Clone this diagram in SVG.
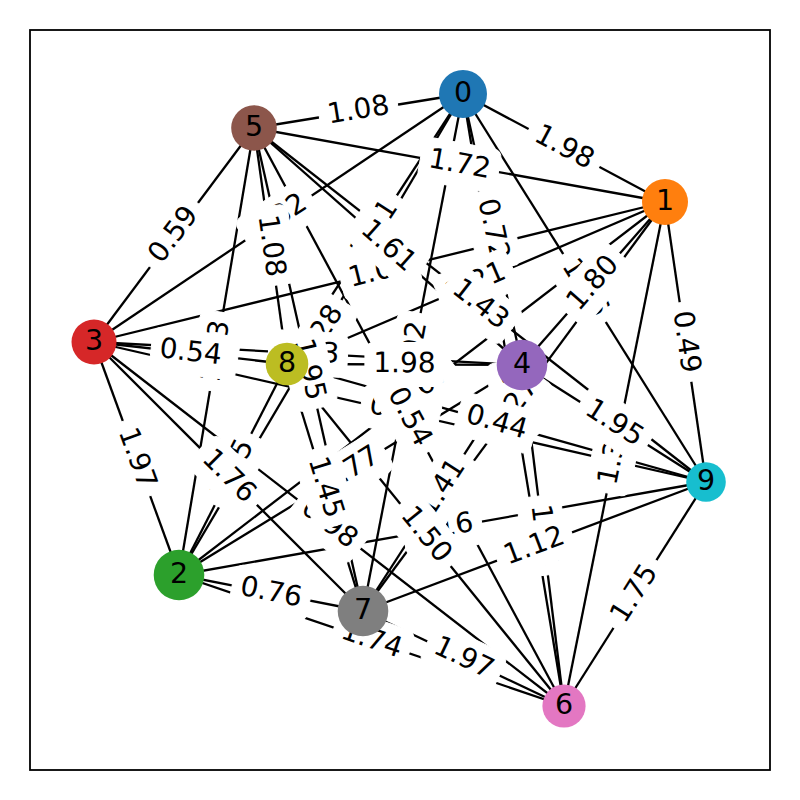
<svg xmlns="http://www.w3.org/2000/svg" width="800" height="800" viewBox="0 0 800 800">
<style>
.e line{stroke:#000;stroke-width:2.3;stroke-linecap:butt}
.lb text{font-family:"DejaVu Sans",sans-serif;font-size:28px;text-anchor:middle;fill:#000}
.n text{font-family:"DejaVu Sans",sans-serif;font-size:28.5px;text-anchor:middle;fill:#000}
</style>
<defs>
<rect id="bx" x="-39.6" y="-22" width="79.2" height="44" rx="8.4" ry="8.4" fill="#fff" stroke="#fff" stroke-width="1"/>
</defs>
<rect x="30" y="30" width="740" height="740" fill="#fff" stroke="#000" stroke-width="1.8"/>
<g id="edges" class="e">
<line x1="463" y1="94" x2="665" y2="202"/>
<line x1="463" y1="94" x2="179" y2="575"/>
<line x1="463" y1="94" x2="94" y2="342"/>
<line x1="463" y1="94" x2="522" y2="365"/>
<line x1="463" y1="94" x2="254" y2="128"/>
<line x1="463" y1="94" x2="564" y2="706"/>
<line x1="463" y1="94" x2="363" y2="611"/>
<line x1="463" y1="94" x2="287" y2="364"/>
<line x1="463" y1="94" x2="706" y2="482"/>
<line x1="665" y1="202" x2="179" y2="575"/>
<line x1="665" y1="202" x2="94" y2="342"/>
<line x1="665" y1="202" x2="522" y2="365"/>
<line x1="665" y1="202" x2="254" y2="128"/>
<line x1="665" y1="202" x2="564" y2="706"/>
<line x1="665" y1="202" x2="363" y2="611"/>
<line x1="665" y1="202" x2="287" y2="364"/>
<line x1="665" y1="202" x2="706" y2="482"/>
<line x1="179" y1="575" x2="94" y2="342"/>
<line x1="179" y1="575" x2="522" y2="365"/>
<line x1="179" y1="575" x2="254" y2="128"/>
<line x1="179" y1="575" x2="564" y2="706"/>
<line x1="179" y1="575" x2="363" y2="611"/>
<line x1="179" y1="575" x2="287" y2="364"/>
<line x1="179" y1="575" x2="706" y2="482"/>
<line x1="94" y1="342" x2="522" y2="365"/>
<line x1="94" y1="342" x2="254" y2="128"/>
<line x1="94" y1="342" x2="564" y2="706"/>
<line x1="94" y1="342" x2="363" y2="611"/>
<line x1="94" y1="342" x2="287" y2="364"/>
<line x1="94" y1="342" x2="706" y2="482"/>
<line x1="522" y1="365" x2="254" y2="128"/>
<line x1="522" y1="365" x2="564" y2="706"/>
<line x1="522" y1="365" x2="363" y2="611"/>
<line x1="522" y1="365" x2="287" y2="364"/>
<line x1="522" y1="365" x2="706" y2="482"/>
<line x1="254" y1="128" x2="564" y2="706"/>
<line x1="254" y1="128" x2="363" y2="611"/>
<line x1="254" y1="128" x2="287" y2="364"/>
<line x1="254" y1="128" x2="706" y2="482"/>
<line x1="564" y1="706" x2="363" y2="611"/>
<line x1="564" y1="706" x2="287" y2="364"/>
<line x1="564" y1="706" x2="706" y2="482"/>
<line x1="363" y1="611" x2="287" y2="364"/>
<line x1="363" y1="611" x2="706" y2="482"/>
<line x1="287" y1="364" x2="706" y2="482"/>
</g>
<g id="edge-labels" class="lb">
<g transform="translate(564,148) rotate(28.1)"><use href="#bx"/><text y="7.7">1.98</text></g>
<g transform="translate(321,334.5) rotate(-59.4)"><use href="#bx"/><text y="7.7">1.28</text></g>
<g transform="translate(278.5,218) rotate(-33.9)"><use href="#bx"/><text y="7.7">0.82</text></g>
<g transform="translate(492.5,229.5) rotate(77.7)"><use href="#bx"/><text y="7.7">0.72</text></g>
<g transform="translate(358.5,111) rotate(-9.2)"><use href="#bx"/><text y="7.7">1.08</text></g>
<g transform="translate(513.5,400) rotate(80.6)"><use href="#bx"/><text y="7.7">0.63</text></g>
<g transform="translate(413,352.5) rotate(-79.1)"><use href="#bx"/><text y="7.7">0.92</text></g>
<g transform="translate(375,229) rotate(-56.9)"><use href="#bx"/><text y="7.7">1.31</text></g>
<g transform="translate(584.5,288) rotate(57.9)"><use href="#bx"/><text y="7.7">1.86</text></g>
<g transform="translate(422,388.5) rotate(-37.5)"><use href="#bx"/><text y="7.7">0.67</text></g>
<g transform="translate(379.5,272) rotate(-13.8)"><use href="#bx"/><text y="7.7">1.03</text></g>
<g transform="translate(593.5,283.5) rotate(-48.7)"><use href="#bx"/><text y="7.7">1.80</text></g>
<g transform="translate(459.5,165) rotate(10.2)"><use href="#bx"/><text y="7.7">1.72</text></g>
<g transform="translate(614.5,454) rotate(-78.7)"><use href="#bx"/><text y="7.7">1.39</text></g>
<g transform="translate(514,406.5) rotate(-53.6)"><use href="#bx"/><text y="7.7">1.27</text></g>
<g transform="translate(476,283) rotate(-23.2)"><use href="#bx"/><text y="7.7">1.21</text></g>
<g transform="translate(685.5,342) rotate(81.7)"><use href="#bx"/><text y="7.7">0.49</text></g>
<g transform="translate(136.5,458.5) rotate(70)"><use href="#bx"/><text y="7.7">1.97</text></g>
<g transform="translate(350.5,470) rotate(-31.5)"><use href="#bx"/><text y="7.7">1.77</text></g>
<g transform="translate(216.5,351.5) rotate(-80.5)"><use href="#bx"/><text y="7.7">1.63</text></g>
<g transform="translate(371.5,640.5) rotate(18.8)"><use href="#bx"/><text y="7.7">1.74</text></g>
<g transform="translate(271,593) rotate(11.1)"><use href="#bx"/><text y="7.7">0.76</text></g>
<g transform="translate(233,469.5) rotate(-62.9)"><use href="#bx"/><text y="7.7">1.35</text></g>
<g transform="translate(442.5,528.5) rotate(-10)"><use href="#bx"/><text y="7.7">1.16</text></g>
<g transform="translate(308,353.5) rotate(3.1)"><use href="#bx"/><text y="7.7">1.13</text></g>
<g transform="translate(174,235) rotate(-53.2)"><use href="#bx"/><text y="7.7">0.59</text></g>
<g transform="translate(329,524) rotate(37.8)"><use href="#bx"/><text y="7.7">0.98</text></g>
<g transform="translate(228.5,476.5) rotate(45)"><use href="#bx"/><text y="7.7">1.76</text></g>
<g transform="translate(190.5,353) rotate(6.5)"><use href="#bx"/><text y="7.7">0.54</text></g>
<g transform="translate(400,412) rotate(12.9)"><use href="#bx"/><text y="7.7">0.71</text></g>
<g transform="translate(388,246.5) rotate(41.5)"><use href="#bx"/><text y="7.7">1.61</text></g>
<g transform="translate(543,535.5) rotate(83)"><use href="#bx"/><text y="7.7">1.04</text></g>
<g transform="translate(442.5,488) rotate(-57.1)"><use href="#bx"/><text y="7.7">1.41</text></g>
<g transform="translate(404.5,364.5) rotate(0.2)"><use href="#bx"/><text y="7.7">1.98</text></g>
<g transform="translate(614,423.5) rotate(32.5)"><use href="#bx"/><text y="7.7">1.95</text></g>
<g transform="translate(409,417) rotate(61.8)"><use href="#bx"/><text y="7.7">0.54</text></g>
<g transform="translate(308.5,369.5) rotate(77.3)"><use href="#bx"/><text y="7.7">1.95</text></g>
<g transform="translate(270.5,246) rotate(82)"><use href="#bx"/><text y="7.7">1.08</text></g>
<g transform="translate(480,305) rotate(38.1)"><use href="#bx"/><text y="7.7">1.43</text></g>
<g transform="translate(463.5,658.5) rotate(25.3)"><use href="#bx"/><text y="7.7">1.97</text></g>
<g transform="translate(425.5,535) rotate(51)"><use href="#bx"/><text y="7.7">1.50</text></g>
<g transform="translate(635,594) rotate(-57.6)"><use href="#bx"/><text y="7.7">1.75</text></g>
<g transform="translate(325,487.5) rotate(72.9)"><use href="#bx"/><text y="7.7">1.45</text></g>
<g transform="translate(534.5,546.5) rotate(-20.6)"><use href="#bx"/><text y="7.7">1.12</text></g>
<g transform="translate(496.5,423) rotate(15.7)"><use href="#bx"/><text y="7.7">0.44</text></g>
</g>
<g id="node0" class="n"><circle cx="463" cy="94" r="24" fill="#1f77b4"/><text x="463" y="101.8">0</text></g>
<g id="node1" class="n"><circle cx="665" cy="202" r="23" fill="#ff7f0e"/><text x="665" y="209.8">1</text></g>
<g id="node2" class="n"><circle cx="179" cy="575" r="25.3" fill="#2ca02c"/><text x="179" y="582.8">2</text></g>
<g id="node3" class="n"><circle cx="94" cy="342" r="22.5" fill="#d62728"/><text x="94" y="349.8">3</text></g>
<g id="node4" class="n"><circle cx="522" cy="365" r="25.3" fill="#9467bd"/><text x="522" y="372.8">4</text></g>
<g id="node5" class="n"><circle cx="254" cy="128" r="22.8" fill="#8c564b"/><text x="254" y="135.8">5</text></g>
<g id="node6" class="n"><circle cx="564" cy="706" r="21.6" fill="#e377c2"/><text x="564" y="713.8">6</text></g>
<g id="node7" class="n"><circle cx="363" cy="611" r="25.3" fill="#7f7f7f"/><text x="363" y="618.8">7</text></g>
<g id="node8" class="n"><circle cx="287" cy="364" r="21.3" fill="#bcbd22"/><text x="287" y="371.8">8</text></g>
<g id="node9" class="n"><circle cx="706" cy="482" r="19.8" fill="#17becf"/><text x="706" y="489.8">9</text></g>
</svg>
